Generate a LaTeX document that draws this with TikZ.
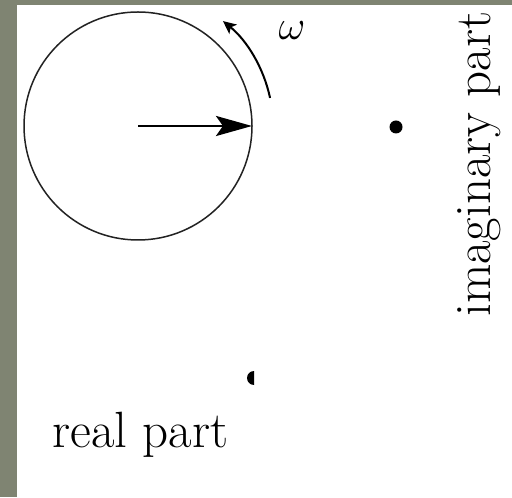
\documentclass[tikz,border=0pt]{standalone}
\usepackage{amsmath}
\definecolor{Framecol}{HTML}{7F8472}
\definecolor{Textcol}{HTML}{000000}
\definecolor{Circcol}{HTML}{222222}
\usetikzlibrary{calc, arrows.meta, positioning}
\tikzset{
    >=Stealth,
    axislabel/.style={font=\fontsize{25.5}{30}\selectfont, text=Textcol, inner sep=0pt}
}
\begin{document}
\begin{tikzpicture}[x=0.5pt, y=0.5pt]
    % Frame
    \fill[Framecol] (0,0) rectangle (512,497);
    \fill[white] (17,0) rectangle (512,492);
    \useasboundingbox (0,0) rectangle (512,497);

    % Coordinates
    \coordinate (C) at (138, 371);
    \def\R{114}
    \coordinate (Rim) at ($(C)+(0:\R)$);
    \coordinate (W) at ($(C)+(12:135)$);

    % Circle
    \draw[Circcol, line width=0.75pt] (C) circle (\R);

    % Phasor
    \draw[-{Stealth[length=18pt, width=10pt, inset=3.5pt]}, Textcol, line width=1.4pt] (C) -- (Rim);

    % Rotation
    \draw[-{Stealth[length=6.5pt, width=6pt, inset=1.5pt]}, Textcol, line width=1pt] (W) arc[start angle=12, end angle=51, radius=135];
    \node[font=\fontsize{21}{24}\selectfont, Textcol] (omega) at (292, 466) {$\omega$};

    % Points
    \fill[Textcol] (396, 370) circle (6.5);
    \fill[Textcol] (254, 126) arc[start angle=90, end angle=270, radius=7] -- cycle;

    % Axis labels
    \node[axislabel, anchor=base west] (real) at (52, 50) {real part};
    \node[axislabel, rotate=90, anchor=base west] (imag) at (490, 180) {imaginary part};
\end{tikzpicture}
\end{document}
